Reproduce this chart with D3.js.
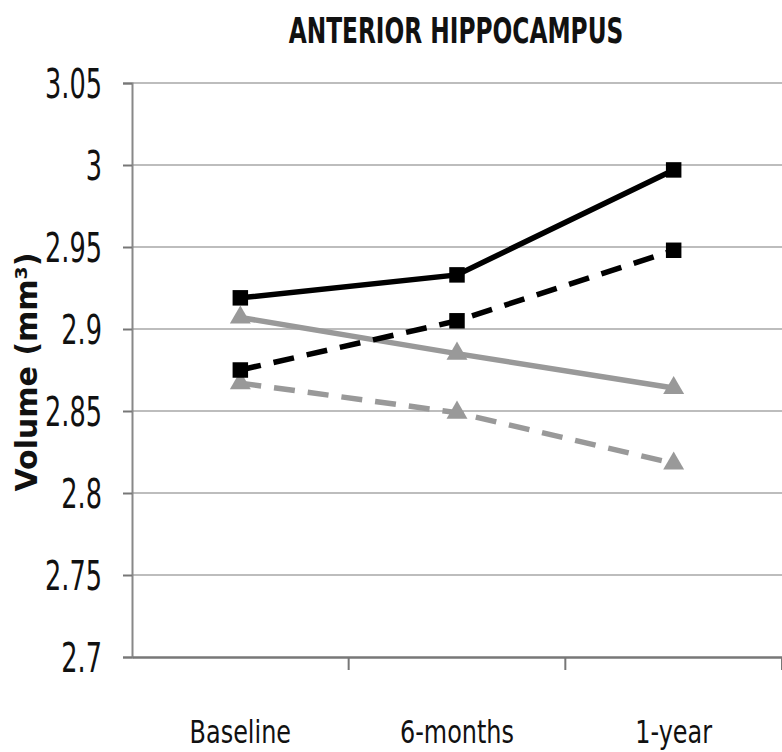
<!DOCTYPE html>
<html>
<head>
<meta charset="utf-8">
<script src="https://cdn.jsdelivr.net/npm/d3@7"></script>
<style>
	body { margin: 0; background: #fff; }
	svg { display: block; }
	text { font-family: "DejaVu Sans", sans-serif; }
</style>
</head>
<body>
<svg id="chart"></svg>
<script>
// Data
var categories = ["Baseline", "6-months", "1-year"];
var blackSolid = [2.919, 2.933, 2.997];
var blackDashed = [2.875, 2.905, 2.948];
var graySolid = [2.907, 2.885, 2.864];
var grayDashed = [2.867, 2.849, 2.818];
var yTicks = [2.7, 2.75, 2.8, 2.85, 2.9, 2.95, 3, 3.05];

var W = 782, H = 752;
var svg = d3.select("#chart").attr("width", W).attr("height", H);

var x = d3.scaleBand().domain(categories).range([132, 782]);
var y = d3.scaleLinear().domain([2.7, 3.05]).range([657, 83]);

// grid
svg.append("g")
	.selectAll("line")
	.data(yTicks.slice(1))
	.join("line")
	.attr("x1", 132).attr("x2", 782)
	.attr("y1", function (d) { return y(d); })
	.attr("y2", function (d) { return y(d); })
	.attr("stroke", "#bdbdbd")
	.attr("stroke-width", 2);

// y axis (labels narrowed to look like the original condensed face)
var tickSx = 0.64;
var yAxis = svg.append("g")
	.attr("transform", "translate(132,0)")
	.call(d3.axisLeft(y).tickValues(yTicks).tickSize(9)
		.tickFormat(function (d) { return d3.format("")(+d.toFixed(2)); }));
yAxis.select(".domain").attr("stroke", "#888").attr("stroke-width", 2);
yAxis.selectAll(".tick line").attr("stroke", "#777").attr("stroke-width", 2);
yAxis.selectAll(".tick text")
	.attr("font-size", 40)
	.attr("fill", "#111")
	.attr("x", -30 / tickSx)
	.attr("dy", "0.36em")
	.attr("transform", "scale(" + tickSx + ",1)");

// x axis
var catSx = 0.76;
var xAxis = svg.append("g")
	.attr("transform", "translate(0,657)")
	.call(d3.axisBottom(x).tickSize(0));
xAxis.select(".domain").attr("stroke", "#777").attr("stroke-width", 2.5);
xAxis.selectAll(".tick text")
	.attr("font-size", 31.5)
	.attr("fill", "#111")
	.attr("y", 86)
	.attr("dy", 0)
	.attr("transform", "scale(" + catSx + ",1)");
xAxis.append("g")
	.selectAll("line")
	.data(categories)
	.join("line")
	.attr("x1", function (d) { return x(d) + x.bandwidth(); })
	.attr("x2", function (d) { return x(d) + x.bandwidth(); })
	.attr("y1", 0).attr("y2", 13)
	.attr("stroke", "#777").attr("stroke-width", 2);

// series
var series = [
	{ values: graySolid, color: "#999", dash: null, marker: "triangle" },
	{ values: grayDashed, color: "#999", dash: "21,13", marker: "triangle" },
	{ values: blackDashed, color: "#000", dash: "21,13", marker: "square" },
	{ values: blackSolid, color: "#000", dash: null, marker: "square" }
];

var cx = function (i) { return x(categories[i]) + x.bandwidth() / 2; };

var line = d3.line()
	.x(function (d, i) { return cx(i); })
	.y(function (d) { return y(d); });

series.forEach(function (s) {
	var g = svg.append("g");
	g.append("path")
		.attr("d", line(s.values))
		.attr("fill", "none")
		.attr("stroke", s.color)
		.attr("stroke-width", 5.5)
		.attr("stroke-dasharray", s.dash);
	var sym = d3.symbol()
		.type(s.marker == "square" ? d3.symbolSquare : d3.symbolTriangle)
		.size(s.marker == "square" ? 240 : 190);
	g.selectAll("path.m")
		.data(s.values)
		.join("path")
		.attr("class", "m")
		.attr("d", sym)
		.attr("transform", function (d, i) {
			return "translate(" + cx(i) + "," + y(d) + ")";
		})
		.attr("fill", s.color);
});

// title
var titleSx = 0.665;
svg.append("text")
	.attr("transform", "translate(456,43) scale(" + titleSx + ",1)")
	.attr("text-anchor", "middle")
	.attr("font-weight", "bold")
	.attr("font-size", 35)
	.attr("fill", "#111")
	.text("ANTERIOR HIPPOCAMPUS");

// y label
svg.append("text")
	.attr("transform", "translate(37,372) rotate(-90)")
	.attr("text-anchor", "middle")
	.attr("font-family", "Verdana, 'DejaVu Sans', sans-serif")
	.attr("font-weight", "bold")
	.attr("font-size", 30)
	.attr("fill", "#111")
	.text("Volume (mm³)");
</script>
</body>
</html>
